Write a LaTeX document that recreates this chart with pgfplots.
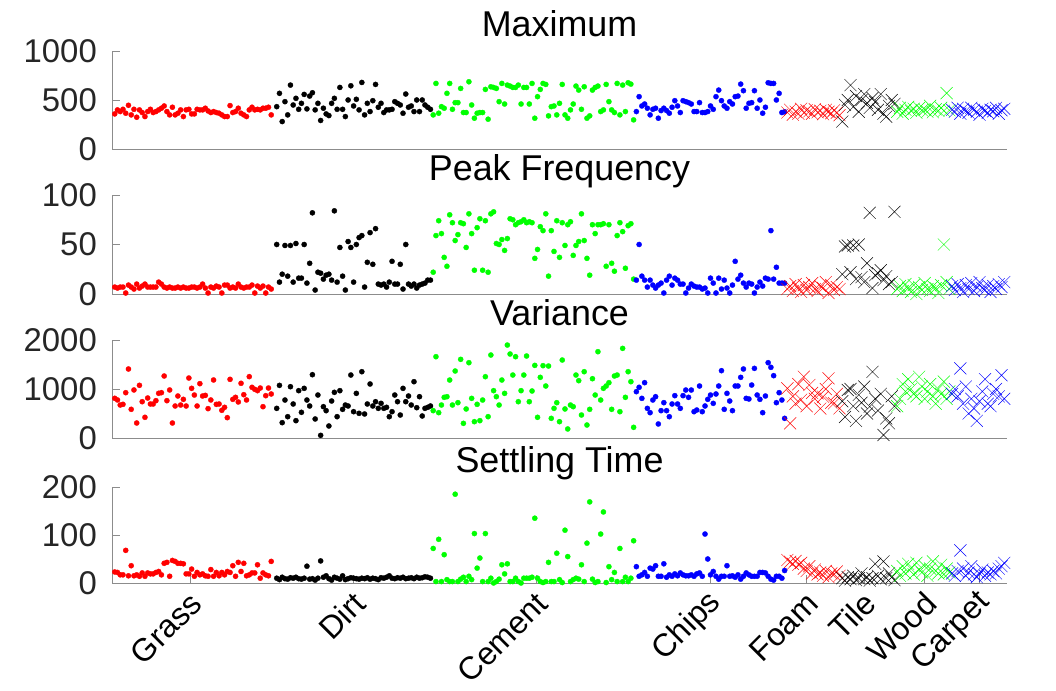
\documentclass[border=0pt]{standalone}
\usepackage{pgfplots}
\pgfplotsset{compat=1.18}
\usepackage{pgfplotstable}
\usepackage{fontspec}
\setmainfont{Liberation Sans}

\newcommand\tickfont{\fontsize{33}{38}\selectfont}
\newcommand\xlabfont{\fontsize{32}{36}\selectfont}
\newcommand\titlefont{\fontsize{36}{40}\selectfont}

% columns: m = maximum, p = peak frequency, v = variance, s = settling time
\pgfplotstableread{
m p v s
358 7 810 23
399 6 776 22
382 7 673 17
405 7 687 17
365 1 925 68
446 9 1408 15
348 7 585 36
405 5 980 15
324 10 306 17
399 6 1075 14
372 8 741 21
331 10 422 14
382 7 816 21
405 7 694 19
372 7 694 19
382 7 762 22
399 12 912 24
416 10 925 17
439 7 1265 41
382 6 762 43
348 7 980 14
426 6 306 47
348 6 653 45
365 7 857 41
399 6 673 41
331 7 789 40
399 6 653 19
405 6 1224 19
358 7 1014 29
358 7 877 14
405 6 653 22
399 7 1109 17
399 10 857 19
416 6 870 15
388 1 599 14
372 7 776 28
382 6 1184 14
372 8 687 22
365 7 694 15
348 1 565 22
331 9 626 17
331 9 415 24
443 6 1197 22
372 7 789 36
382 6 830 14
416 10 735 43
365 7 1116 24
348 6 884 41
331 7 776 15
399 7 1252 17
426 9 1034 21
399 1 993 21
405 8 966 38
399 6 1020 10
416 8 639 21
416 1 864 17
426 7 1020 15
348 5 898 45
}\grass

\pgfplotstableread{
m p v s
432 50 605 10
568 12 1074 7
280 20 313 12
483 49 775 9
348 18 435 8
652 49 1047 11
449 12 694 10
517 51 354 12
405 16 966 9
466 16 524 8
557 50 1013 10
409 11 775 35
540 31 653 8
574 82 1292 9
399 4 388 6
466 22 877 10
291 21 54 46
416 15 639 12
358 19 558 15
341 20 245 9
466 14 755 6
517 84 932 12
405 12 435 10
628 47 966 8
405 18 585 15
331 4 673 7
500 53 653 9
645 47 1285 11
439 12 537 10
507 50 911 9
399 57 503 8
679 59 1353 10
348 7 490 9
466 32 694 11
382 62 1102 8
493 30 653 10
659 66 741 9
426 10 605 7
466 9 707 11
372 10 605 10
399 7 626 12
399 12 435 15
405 33 537 10
483 10 877 9
466 10 741 11
449 30 469 10
365 5 1013 12
561 50 741 9
426 10 857 10
439 8 673 11
382 10 1149 9
500 6 619 12
382 9 843 10
500 10 449 11
449 11 605 13
426 14 626 12
405 14 653 10
}\dirt

\pgfplotstableread{
m p v s
348 22 558 72
669 59 1659 3
365 74 517 91
432 61 673 3
416 37 830 59
568 28 843 7
669 80 1183 3
405 72 673 3
473 54 1367 185
473 60 721 3
618 72 1605 8
372 71 299 12
372 47 592 3
686 81 1537 14
449 61 809 7
314 24 333 103
365 67 687 31
372 76 354 52
372 24 775 3
608 74 1251 103
304 22 435 3
635 81 1693 10
628 83 966 0
618 51 843 3
483 50 673 8
669 55 1183 38
459 44 911 19
652 56 1897 40
642 76 1714 3
628 75 1285 3
628 70 1659 10
652 72 741 3
459 73 966 0
628 75 1285 10
628 72 1673 10
459 73 741 10
669 72 959 12
314 36 1482 135
534 45 422 10
608 68 1238 3
669 64 1476 1
659 81 1061 3
338 18 1469 43
432 64 401 3
439 43 605 3
348 74 721 62
466 37 333 7
659 72 1591 1
348 49 592 110
314 70 184 55
399 73 673 3
459 39 639 7
642 49 1285 10
601 53 1170 8
405 81 469 38
635 54 1353 3
314 36 265 83
338 19 585 169
601 70 1210 8
628 61 877 1
642 70 1761 3
382 70 775 102
399 71 1013 148
659 28 1061 1
483 70 1129 34
399 31 585 7
372 23 1265 22
669 59 1285 3
348 72 537 72
652 63 1829 3
382 26 830 12
676 69 1353 3
662 71 1149 10
297 15 218 88
}\cement

\pgfplotstableread{
m p v s
382 14 945 34
534 50 1034 14
439 18 809 17
459 14 1129 22
416 7 605 14
348 14 517 31
405 9 775 29
416 6 843 36
314 9 286 14
392 11 558 14
416 1 721 40
392 14 558 12
365 18 435 17
426 9 694 14
493 16 864 19
439 14 694 15
372 10 605 21
493 10 864 17
483 1 979 15
473 6 830 15
459 10 979 17
382 8 537 14
382 7 571 19
473 7 1061 21
372 5 537 14
372 6 653 102
382 1 789 50
439 16 877 17
405 11 707 24
534 1 898 14
601 16 1061 8
493 5 1374 14
439 14 585 14
416 6 911 36
483 1 755 14
459 9 558 15
534 33 1061 12
540 15 1061 17
662 19 1238 8
595 11 1408 14
416 7 809 21
466 11 796 17
473 10 1081 14
595 1 1421 14
416 7 877 14
500 12 789 22
365 8 517 22
426 16 857 21
676 15 1537 14
669 64 1442 8
669 15 1272 6
500 27 721 14
568 11 925 14
372 11 775 10
380 11 401 26
}\chips

\pgfplotstableread{
m p v s
372 5 1013 48
400 8 299 44
350 3 850 40
380 10 700 46
360 6 1100 38
410 2 780 42
370 9 1251 30
395 4 650 25
385 7 1081 35
360 11 920 20
405 5 800 28
375 3 911 18
390 8 600 22
355 6 843 15
400 12 1000 25
380 1 1217 12
365 9 720 20
395 4 707 18
370 7 900 24
345 5 605 15
}\foam

\pgfplotstableread{
m p v s
280 20 750 10
450 48 430 5
500 49 980 12
652 22 1000 8
430 49 650 15
540 15 350 6
380 50 880 10
500 17 720 20
560 12 1050 8
470 31 500 12
420 82 640 5
520 6 1350 10
480 19 800 40
400 21 560 15
560 24 900 8
360 14 61 45
330 18 400 10
440 10 300 20
500 12 850 12
460 83 650 6
}\tile

\pgfplotstableread{
m p v s
380 5 650 25
420 8 800 15
360 3 1100 35
400 10 950 20
430 6 1200 40
390 2 1000 30
410 9 900 18
370 0 850 42
420 7 1250 28
395 4 1050 22
400 11 800 35
380 5 950 15
440 3 1100 30
375 8 850 45
405 6 700 25
390 1 1000 20
420 9 900 38
390 50 1150 18
570 12 800 30
395 5 950 22
}\wood

\pgfplotstableread{
m p v s
400 8 900 20
380 4 1000 15
420 10 850 25
360 6 1421 68
410 2 700 30
390 9 1050 15
370 5 500 22
420 11 800 35
400 3 600 18
380 7 350 12
350 12 750 20
410 6 950 28
390 4 1200 15
370 9 700 22
400 2 650 18
385 8 900 25
420 5 1000 20
360 10 850 30
395 7 1280 35
410 12 800 42
}\carpet

\pgfplotsset{
  panel/.style={
    width=895bp, scale only axis,
    xmin=0, xmax=326, ymin=0,
    axis x line*=bottom, axis y line*=left,
    axis line style={draw=black!45, line width=0.8bp},
    every tick/.style={draw=black!45, line width=0.8bp},
    tick align=inside, major tick length=8bp,
    xtick=\empty,
    yticklabel style={font=\tickfont, text=black!85, anchor=east,
                      inner sep=0pt, xshift=-15bp},
    title style={font=\titlefont, at={(0.5,1)}, anchor=base, yshift=9bp},
    /pgf/number format/assume math mode=true,
    /pgf/number format/1000 sep={},
    clip=false,
  },
  dot/.style={only marks, mark=*, mark size=2.6bp, mark options={line width=0.3bp}},
  crs/.style={only marks, mark=x, mark size=8.5bp, mark options={line width=0.45bp}},
}

\newcommand\series[1]{%
  \addplot[dot, red]   table[x expr=\coordindex+1,   y=#1] {\grass};
  \addplot[dot, black] table[x expr=\coordindex+60,  y=#1] {\dirt};
  \addplot[dot, green] table[x expr=\coordindex+117, y=#1] {\cement};
  \addplot[dot, blue]  table[x expr=\coordindex+191, y=#1] {\chips};
  \addplot[crs, red]   table[x expr=\coordindex+246, y=#1] {\foam};
  \addplot[crs, black] table[x expr=\coordindex+266, y=#1] {\tile};
  \addplot[crs, green] table[x expr=\coordindex+286, y=#1] {\wood};
  \addplot[crs, blue]  table[x expr=\coordindex+306, y=#1] {\carpet};
}

\begin{document}
\begin{tikzpicture}
\path (0bp,0bp) rectangle (1056bp,691bp);

\begin{axis}[panel, at={(112bp,542bp)}, height=98bp,
  ymax=1000, ytick={0,500,1000}, title={Maximum}]
  \series{m}
\end{axis}

\begin{axis}[panel, at={(112bp,397bp)}, height=99bp,
  ymax=100, ytick={0,50,100}, title={Peak Frequency}]
  \series{p}
\end{axis}

\begin{axis}[panel, at={(112bp,253bp)}, height=98bp,
  ymax=2000, ytick={0,1000,2000}, title={Variance}]
  \series{v}
\end{axis}

\begin{axis}[panel, at={(112bp,108bp)}, height=96bp,
  ymax=200, ytick={0,100,200}, title={Settling Time},
  xtick={28.5,88,154.5,218,253,274,296,316},
  xticklabels={Grass,Dirt,Cement,Chips,Foam,Tile,Wood,Carpet},
  xticklabel style={font=\xlabfont, text=black, inner sep=0pt,
                    xshift=6bp, yshift=-15bp, rotate=45, anchor=east}]
  \series{s}
\end{axis}
\end{tikzpicture}
\end{document}
